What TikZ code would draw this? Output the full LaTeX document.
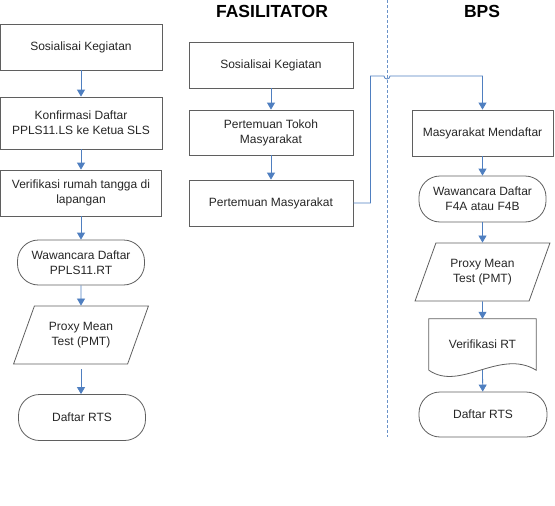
\documentclass[tikz,border=0pt]{standalone}
\usepackage{fontspec}
\setmainfont{Liberation Sans}
\usepackage{tikz}
\usetikzlibrary{arrows.meta}
\usetikzlibrary{shapes.geometric}
\definecolor{flowblue}{HTML}{4F7FC0}
\definecolor{edgegray}{HTML}{5F5F5F}
\definecolor{inkgray}{HTML}{262626}

\begin{document}
\begin{tikzpicture}[x=1pt, y=-1pt,
		every node/.style={font=\fontsize{12}{15}\selectfont, text=inkgray, align=center},
		proses/.style={draw=edgegray, line width=0.8pt, minimum height=46},
		terminal/.style={draw=edgegray, line width=0.8pt, rounded corners=21, minimum width=127, minimum height=46},
		datain/.style={draw=edgegray, line width=0.8pt, trapezium, trapezium left angle=64, trapezium right angle=116,
			trapezium stretches=true, minimum width=135, minimum height=58},
		judul/.style={font=\fontsize{17.5}{20}\selectfont\bfseries, text=black},
		alur/.style={draw=flowblue, line width=0.8pt, -{Triangle[width=8pt,length=7pt]}}]
	\useasboundingbox (0,0) rectangle (555,506);
	% kolom kiri
	\node[proses, minimum width=162] (s1) at (81,47) {Sosialisai Kegiatan};
	\node[proses, minimum width=162, minimum height=52] (k2) at (81,123) {Konfirmasi Daftar\\PPLS11.LS ke Ketua SLS};
	\node[proses, minimum width=161] (v3) at (81,193) {Verifikasi rumah tangga di\\lapangan};
	\node[terminal, minimum height=45] (w4) at (81,262.5) {Wawancara Daftar\\PPLS11.RT};
	\node[datain] (p5) at (81,335) {Proxy Mean\\Test (PMT)};
	\node[terminal] (d6) at (82,417.5) {Daftar RTS};
	\draw[alur] (s1) -- (k2);
	\draw[alur] (k2) -- (v3);
	\draw[alur] (v3) -- (w4);
	\draw[alur] (w4) -- (p5);
	\draw[alur] ([yshift=-5pt]p5.south) -- (p5.south |- d6.north);
	% kolom fasilitator
	\node[judul] (tf) at (272,11) {FASILITATOR};
	\node[proses, minimum width=164] (f1) at (271,65) {Sosialisai Kegiatan};
	\node[proses, minimum width=164, minimum height=45] (f2) at (271,132.5) {Pertemuan Tokoh\\Masyarakat};
	\node[proses, minimum width=164] (f3) at (271,203) {Pertemuan Masyarakat};
	\draw[alur] (f1) -- (f2);
	\draw[alur] (f2) -- (f3);
	% batas lajur
	\coordinate (lt) at (387,0);
	\coordinate (lb) at (387,437);
	\draw[flowblue!85, line width=0.9pt, dash pattern=on 3pt off 2pt] (lt) -- (lb);
	% kolom bps
	\node[judul] (tb) at (482,11) {BPS};
	\node[proses, minimum width=141] (b1) at (482.5,133) {Masyarakat Mendaftar};
	\node[terminal] (b2) at (482.5,199) {Wawancara Daftar\\F4A atau F4B};
	\node[datain] (b3) at (482.5,272) {Proxy Mean\\Test (PMT)};
	\node[minimum width=107, minimum height=51, inner sep=0] (b4) at (482.5,344.5) {Verifikasi RT};
	\draw[edgegray, line width=0.8pt] (b4.south west) -- (b4.north west) -- (b4.north east) -- (b4.south east)
		.. controls (500,348) and (460,392) .. (b4.south west);
	\node[terminal, minimum width=128, minimum height=45] (b5) at (483,414.5) {Daftar RTS};
	\draw[alur] (b1) -- (b2);
	\draw[alur] (b2) -- (b3);
	\draw[alur] (b3) -- (b4);
	\draw[alur] (b4.south) -- (b5);
	% sambungan antar lajur, melompati garis batas
	\coordinate (hop) at (384,76);
	\draw[alur] (f3.east) -- ++(17,0) |- (hop) arc[start angle=180, end angle=0, radius=3] -| (b1.north);
\end{tikzpicture}
\end{document}
